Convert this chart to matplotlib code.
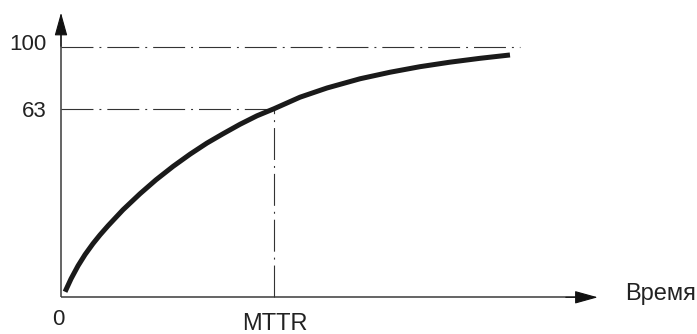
import matplotlib
matplotlib.use("Agg")
import matplotlib.pyplot as plt

plt.rcParams["font.family"] = ["Liberation Sans", "DejaVu Sans"]
plt.rcParams["lines.scale_dashes"] = False

# Recovery curve: time in units of MTTR, recovered share on the vertical axis
time_mttr = [0.019, 0.047, 0.080, 0.113, 0.150, 0.183, 0.221, 0.291,
             0.371, 0.446, 0.526, 0.606, 0.685, 0.761, 0.840, 0.920,
             1.000, 1.122, 1.249, 1.404, 1.545, 1.685, 1.826, 1.967, 2.108]
recovery_pct = [-46.2, -38.5, -30.7, -24.0, -17.5, -12.3, -6.8, 2.7,
                12.3, 20.6, 28.6, 35.9, 42.5, 48.1, 53.7, 58.8,
                63.0, 69.9, 75.4, 80.9, 84.8, 88.1, 90.8, 93.1, 95.1]

# Reference levels and axis labels
levels = [63, 100]
level_labels = ["63", "100"]
mttr = 1.0
time_ticks = [0, mttr]
time_tick_labels = ["0", "MTTR"]
time_axis_label = "Время"

# Extents of the drawing
origin_y = -49.5
x_axis_end = 2.52
y_axis_end = 120.3
full_level_end = 2.155

fig = plt.figure(figsize=(6.97, 3.34), dpi=100)
ax = fig.add_axes([0, 0, 1, 1])
ax.set_xlim(-0.2864, 2.986)
ax.set_ylim(-71.4, 127.9)
ax.axis("off")

# Axes with filled arrowheads
axis_color = "#3a3a3a"
ax.plot([0, x_axis_end - 0.05], [origin_y, origin_y], color=axis_color,
        lw=1.1, solid_capstyle="butt")
ax.plot([0, 0], [origin_y, y_axis_end - 5], color=axis_color,
        lw=1.1, solid_capstyle="butt")
head = dict(arrowstyle="-|>,head_length=0.72,head_width=0.2",
            mutation_scale=20, lw=0.8, color="#111111",
            shrinkA=0, shrinkB=0)
ax.annotate("", xy=(x_axis_end, origin_y),
            xytext=(x_axis_end - 0.15, origin_y), arrowprops=head)
ax.annotate("", xy=(0, y_axis_end), xytext=(0, y_axis_end - 20),
            arrowprops=head)

# Dash-dot reference lines
dashdot = (0, (23, 4.3, 1.4, 4.3))
ref_color = "#333333"
ax.plot([0, full_level_end], [levels[1], levels[1]], ls=dashdot,
        lw=0.8, color=ref_color)
ax.plot([0, mttr], [levels[0], levels[0]], ls=dashdot, lw=0.8,
        color=ref_color)
ax.plot([mttr, mttr], [origin_y, levels[0]], ls=dashdot, lw=0.8,
        color=ref_color)

# Recovery curve
ax.plot(time_mttr, recovery_pct, color="#1a1a1a", lw=3.6,
        solid_capstyle="butt", solid_joinstyle="round")

# Labels
text_color = "#222222"
ax.text(-0.066, 98.1, level_labels[1], ha="right", va="baseline",
        fontsize=16, color=text_color)
ax.text(-0.066, 57.9, level_labels[0], ha="right", va="baseline",
        fontsize=16, color=text_color)
ax.text(time_ticks[0] - 0.012, -66.0, time_tick_labels[0], ha="center",
        va="baseline", fontsize=16, color=text_color)
ax.text(time_ticks[1] + 0.005, -69.0, time_tick_labels[1], ha="center",
        va="baseline", fontsize=17, color=text_color)
ax.text(2.648, -51.1, time_axis_label, ha="left", va="baseline",
        fontsize=17, color=text_color)

fig.savefig("out.png", dpi=100)
